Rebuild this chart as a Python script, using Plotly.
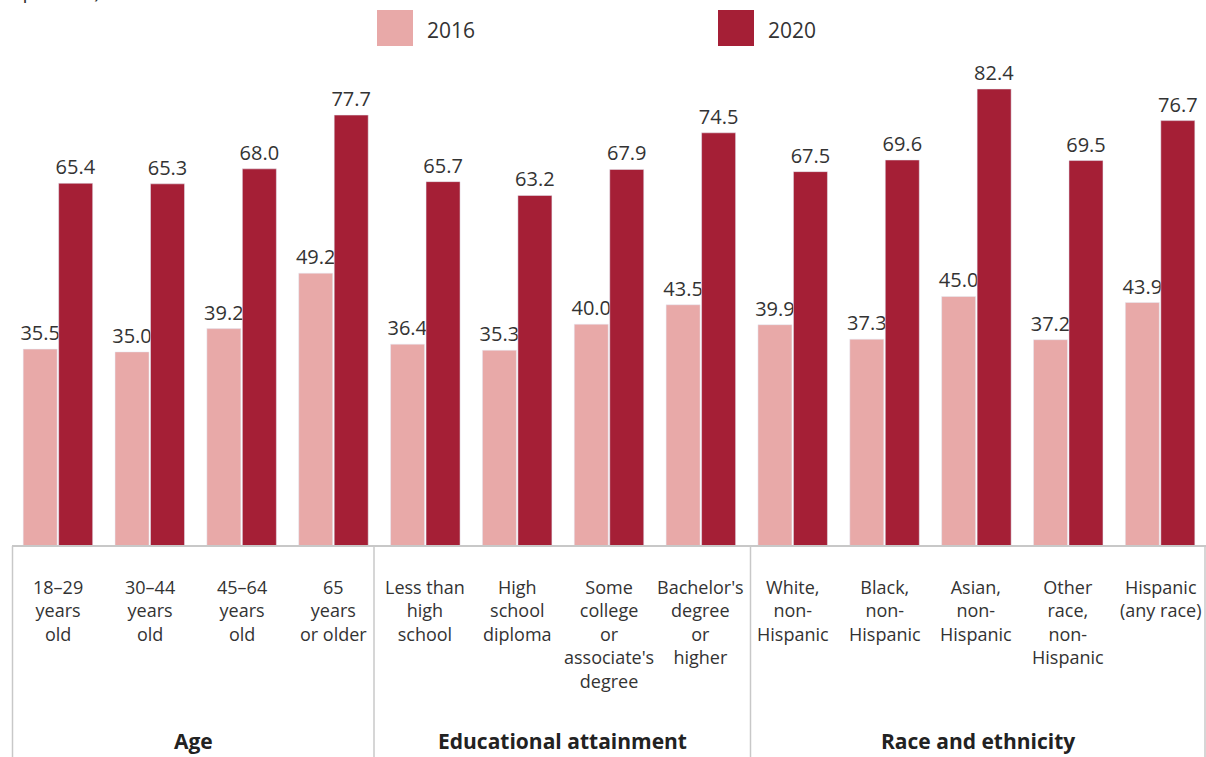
import plotly.graph_objects as go

categories = [
    "18–29<br>years<br>old", "30–44<br>years<br>old", "45–64<br>years<br>old", "65<br>years<br>or older",
    "Less than<br>high<br>school", "High<br>school<br>diploma", "Some<br>college<br>or<br>associate's<br>degree",
    "Bachelor's<br>degree<br>or<br>higher",
    "White,<br>non-<br>Hispanic", "Black,<br>non-<br>Hispanic", "Asian,<br>non-<br>Hispanic",
    "Other<br>race,<br>non-<br>Hispanic", "Hispanic<br>(any race)",
]
values_2016 = [35.5, 35.0, 39.2, 49.2, 36.4, 35.3, 40.0, 43.5, 39.9, 37.3, 45.0, 37.2, 43.9]
values_2020 = [65.4, 65.3, 68.0, 77.7, 65.7, 63.2, 67.9, 74.5, 67.5, 69.6, 82.4, 69.5, 76.7]
groups = ["Age", "Educational attainment", "Race and ethnicity"]

C16 = "#E8A9A8"
C20 = "#A51F36"
TXT = "#333333"
FONT = "Open Sans"

W, H = 1206, 757
L, R, T, B = 12, 0, 60, 211
PW, PH = W - L - R, H - T - B


def px(xp):
    return (xp - L) / PW


def py(yp):
    return (H - B - yp) / PH


xs = list(range(len(categories)))

fig = go.Figure()
for name, vals, col in [("2016", values_2016, C16), ("2020", values_2020, C20)]:
    fig.add_trace(go.Bar(x=xs, y=vals, name=name, marker_color=col,
                         texttemplate="%{y:.1f}", textposition="outside",
                         constraintext="none",
                         textfont=dict(size=20, color=TXT, family=FONT), cliponaxis=False))

shapes = []
annotations = []
# baseline
shapes.append(dict(type="line", xref="paper", yref="paper", x0=0, x1=1, y0=0, y1=0,
                   line=dict(color="#C8C8C8", width=2)))
# separators
for xp in [12.5, 374, 750.5, 1205]:
    shapes.append(dict(type="line", xref="paper", yref="paper", x0=px(xp), x1=px(xp),
                       y0=0, y1=py(H), line=dict(color="#C8C8C8", width=1.5)))

# category labels
for i, c in enumerate(categories):
    annotations.append(dict(x=i, y=0, xref="x", yref="paper", yanchor="top", xanchor="center",
                            yshift=-27, text=c, showarrow=False,
                            font=dict(size=18, color=TXT, family=FONT)))
# group labels
for g, (a, b) in zip(groups, [(12.5, 374), (374, 750.5), (750.5, 1205)]):
    annotations.append(dict(x=px((a + b) / 2), y=py(741), xref="paper", yref="paper",
                            xanchor="center", yanchor="middle", text="<b>" + g + "</b>",
                            showarrow=False, font=dict(size=21, color="#222222", family=FONT)))

# legend
for (x0, label, col) in [(377, "2016", C16), (718, "2020", C20)]:
    shapes.append(dict(type="rect", xref="paper", yref="paper", x0=px(x0), x1=px(x0 + 36),
                       y0=py(46), y1=py(10), fillcolor=col, line=dict(width=0)))
    annotations.append(dict(x=px(x0 + 48), y=py(30), xref="paper", yref="paper",
                            xanchor="left", yanchor="middle", text=label, showarrow=False,
                            font=dict(size=21, color=TXT, family=FONT)))

# cut-off unit note (partly outside the picture, as in the reference)
annotations.append(dict(x=px(-8), y=py(6), xref="paper", yref="paper", xanchor="left",
                        yanchor="bottom", text="(in percent)", showarrow=False,
                        font=dict(size=20, color=TXT, family=FONT)))

fig.update_layout(
    width=W, height=H, margin=dict(l=L, r=R, t=T, b=B),
    paper_bgcolor="white", plot_bgcolor="white",
    barmode="group", bargap=0.227, bargroupgap=0.042,
    showlegend=False,
    xaxis=dict(range=[-0.5, 12.5], showticklabels=False, showgrid=False, zeroline=False,
               ticks="", showline=False),
    yaxis=dict(range=[0, PH / 5.546], visible=False, showgrid=False, zeroline=False),
    shapes=shapes, annotations=annotations,
    font=dict(family=FONT, color=TXT),
)

fig.write_html("out.html")
